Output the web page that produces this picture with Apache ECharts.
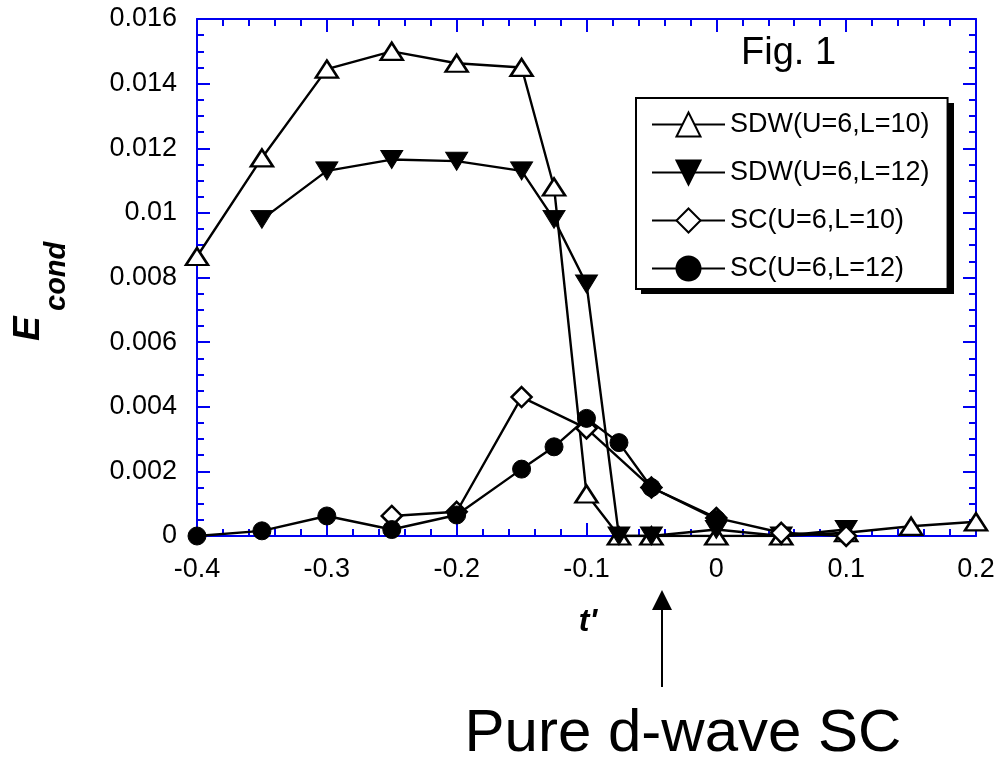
<!DOCTYPE html>
<html>
<head>
<meta charset="utf-8">
<script src="https://cdn.jsdelivr.net/npm/echarts@6/dist/echarts.min.js"></script>
<style>
  html, body { margin: 0; padding: 0; background: #fff; }
  #chart { width: 998px; height: 759px; }
</style>
</head>
<body>
<div id="chart"></div>
<script>
// Condensation energy vs. next-nearest hopping t'
const tSdw10 = [-0.4, -0.35, -0.3, -0.25, -0.2, -0.15, -0.125, -0.1, -0.075, -0.05, 0, 0.05, 0.1, 0.15, 0.2];
const eSdw10 = [0.00865, 0.0117, 0.01445, 0.0150, 0.01463, 0.0145, 0.0108, 0.0013, 0, 0, 0, 0, 0.0001, 0.0003, 0.00044];

const tSdw12 = [-0.35, -0.3, -0.25, -0.2, -0.15, -0.125, -0.1, -0.075, -0.05, 0, 0.05, 0.1];
const eSdw12 = [0.0098, 0.0113, 0.01165, 0.0116, 0.0113, 0.0098, 0.0078, 0, 0, 0.0002, 0, 0.0002];

const tSc10 = [-0.25, -0.2, -0.15, -0.1, -0.05, 0, 0.05, 0.1];
const eSc10 = [0.00062, 0.00075, 0.0043, 0.00333, 0.0015, 0.00056, 0.0001, 0];

const tSc12 = [-0.4, -0.35, -0.3, -0.25, -0.2, -0.15, -0.125, -0.1, -0.075, -0.05, 0];
const eSc12 = [0, 0.00016, 0.00062, 0.0002, 0.00065, 0.00207, 0.00276, 0.00364, 0.00289, 0.0015, 0.00052];

const seriesNames = ['SDW(U=6,L=10)', 'SDW(U=6,L=12)', 'SC(U=6,L=10)', 'SC(U=6,L=12)'];

const xTicks = { min: -0.4, max: 0.2, step: 0.1 };
const yTicks = { min: 0, max: 0.016, step: 0.002 };

const FONT = '"Liberation Sans", Arial, Helvetica, sans-serif';
const AXIS_BLUE = '#0000f0';

function pairs(xs, ys) {
  return xs.map((x, i) => [x, ys[i]]);
}

function axisCommon(showLabels, kind) {
  return {
    type: 'value',
    min: kind === 'x' ? xTicks.min : yTicks.min,
    max: kind === 'x' ? xTicks.max : yTicks.max,
    interval: kind === 'x' ? xTicks.step : yTicks.step,
    axisLine: { show: true, onZero: false, lineStyle: { color: AXIS_BLUE, width: 2 } },
    axisTick: { show: true, inside: true, length: 13, lineStyle: { color: AXIS_BLUE, width: 2 } },
    minorTick: {
      show: true,
      splitNumber: kind === 'x' ? 5 : 4,
      length: 7,
      lineStyle: { color: AXIS_BLUE, width: 2 }
    },
    splitLine: { show: false },
    minorSplitLine: { show: false },
    axisLabel: showLabels ? {
      show: true,
      color: '#000',
      fontFamily: FONT,
      fontSize: 27,
      margin: 20,
      formatter: kind === 'x'
        ? (v) => String(Math.round(v * 10) / 10)
        : (v) => String(parseFloat(v.toFixed(3)))
    } : { show: false }
  };
}

const openStyle = { color: '#fff', borderColor: '#000', borderWidth: 2.5 };
const filledStyle = { color: '#000', borderColor: '#000', borderWidth: 1 };
const lineStyle = { color: '#000', width: 2.4 };

function textStyle(text, size, opts) {
  return Object.assign({
    text: text,
    fill: '#000',
    fontFamily: FONT,
    fontSize: size
  }, opts || {});
}

const chart = echarts.init(document.getElementById('chart'), null, { renderer: 'canvas' });

chart.setOption({
  animation: false,
  backgroundColor: '#fff',
  grid: { left: 197, right: 22, top: 19, bottom: 223, containLabel: false },
  xAxis: [
    Object.assign(axisCommon(true, 'x'), { position: 'bottom' }),
    Object.assign(axisCommon(false, 'x'), { position: 'top' })
  ],
  yAxis: [
    Object.assign(axisCommon(true, 'y'), { position: 'left' }),
    Object.assign(axisCommon(false, 'y'), { position: 'right' })
  ],
  legend: {
    left: 636,
    top: 98,
    orient: 'vertical',
    itemWidth: 73,
    itemHeight: 30,
    itemGap: 21,
    padding: [13, 18, 7, 15],
    backgroundColor: '#fff',
    borderColor: '#000',
    borderWidth: 2,
    borderRadius: 0,
    selectedMode: false,
    z: 5,
    textStyle: { color: '#000', fontFamily: FONT, fontSize: 27 },
    data: seriesNames
  },
  series: [
    {
      name: seriesNames[0],
      type: 'line',
      data: pairs(tSdw10, eSdw10),
      symbol: 'triangle',
      symbolSize: [22, 17],
      showAllSymbol: true,
      itemStyle: openStyle,
      lineStyle: lineStyle
    },
    {
      name: seriesNames[1],
      type: 'line',
      data: pairs(tSdw12, eSdw12),
      symbol: 'triangle',
      symbolRotate: 180,
      symbolSize: [22, 18],
      showAllSymbol: true,
      itemStyle: filledStyle,
      lineStyle: lineStyle
    },
    {
      name: seriesNames[2],
      type: 'line',
      data: pairs(tSc10, eSc10),
      symbol: 'diamond',
      symbolSize: [20, 20],
      showAllSymbol: true,
      itemStyle: openStyle,
      lineStyle: lineStyle
    },
    {
      name: seriesNames[3],
      type: 'line',
      data: pairs(tSc12, eSc12),
      symbol: 'circle',
      symbolSize: 18,
      showAllSymbol: true,
      itemStyle: filledStyle,
      lineStyle: lineStyle
    }
  ],
  graphic: [
    // drop shadow behind the legend frame
    {
      type: 'rect',
      z: 4,
      shape: { x: 641, y: 103, width: 313, height: 191 },
      style: { fill: '#000' }
    },
    {
      type: 'text',
      x: 741,
      y: 54,
      style: textStyle('Fig. 1', 38, { align: 'left', verticalAlign: 'middle' })
    },
    // axis title E_cond, rotated to read upward
    {
      type: 'text',
      x: 29,
      y: 341,
      rotation: Math.PI / 2,
      style: textStyle('E', 37, {
        fontStyle: 'italic', fontWeight: 'bold', align: 'left', verticalAlign: 'middle'
      })
    },
    {
      type: 'text',
      x: 57,
      y: 311,
      rotation: Math.PI / 2,
      style: textStyle('cond', 29, {
        fontStyle: 'italic', fontWeight: 'bold', align: 'left', verticalAlign: 'middle'
      })
    },
    {
      type: 'text',
      x: 588,
      y: 622,
      style: textStyle("t'", 32, {
        fontStyle: 'italic', fontWeight: 'bold', align: 'center', verticalAlign: 'middle'
      })
    },
    // arrow marking the pure d-wave point
    {
      type: 'line',
      shape: { x1: 662, y1: 687, x2: 662, y2: 605 },
      style: { stroke: '#000', lineWidth: 2 }
    },
    {
      type: 'polygon',
      shape: { points: [[662, 590], [652, 610], [672, 610]] },
      style: { fill: '#000' }
    },
    {
      type: 'text',
      x: 683,
      y: 734,
      style: textStyle('Pure d-wave SC', 60, { align: 'center', verticalAlign: 'middle' })
    }
  ]
});
</script>
</body>
</html>
